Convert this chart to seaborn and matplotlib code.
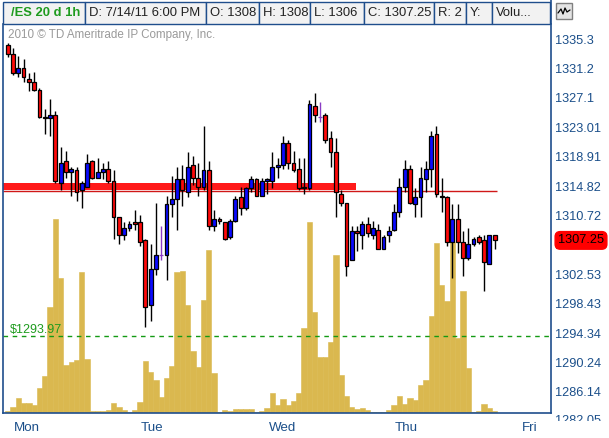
import numpy as np
import pandas as pd
import seaborn as sns
import matplotlib
matplotlib.use("Agg")
import matplotlib.pyplot as plt
from matplotlib.patches import Rectangle
from matplotlib.lines import Line2D
from matplotlib.transforms import Bbox, blended_transform_factory, offset_copy
from matplotlib import font_manager as fm

# ---------------- data ----------------
opens = [1334.5, 1333.25, 1330.5, 1331.25, 1329.75, 1329.25, 1328.25, 1324.5, 1324.25, 1324.75,
         1315.25, 1318.25, 1316.75, 1317.0, 1314.25, 1314.75, 1318.25, 1316.0, 1316.75, 1317.25,
         1315.5, 1310.5, 1308.0, 1309.0, 1309.75, 1309.75, 1307.25, 1298.25, 1303.25, 1305.25,
         1305.25, 1312.25, 1313.0, 1315.75, 1314.0, 1317.75, 1316.0, 1314.75, 1317.0, 1309.25,
         1310.25, 1309.75, 1307.75, 1310.0, 1313.25, 1311.75, 1314.5, 1315.75, 1313.5, 1315.5,
         1315.5, 1317.5, 1317.75, 1320.75, 1318.0, 1317.25, 1314.5, 1314.5, 1326.0, 1324.5,
         1324.75, 1321.5, 1319.5, 1313.75, 1312.5, 1304.5, 1308.5, 1308.0, 1309.5, 1308.0,
         1308.75, 1306.0, 1308.0, 1308.75, 1311.25, 1314.75, 1317.25, 1312.25, 1313.25, 1315.75,
         1317.25, 1322.0, 1313.5, 1313.25, 1307.0, 1310.25, 1307.0, 1304.75, 1306.75, 1307.75,
         1307.25, 1304.0, 1308.0]
highs = [1334.75, 1334.0, 1333.0, 1332.5, 1330.5, 1330.75, 1328.5, 1325.5, 1327.0, 1325.25,
         1320.25, 1319.75, 1317.5, 1317.5, 1315.5, 1319.25, 1318.5, 1318.75, 1318.0, 1318.25,
         1317.0, 1310.5, 1309.75, 1310.0, 1311.5, 1310.75, 1307.5, 1306.75, 1312.5, 1309.25,
         1313.5, 1316.25, 1317.5, 1317.75, 1319.5, 1319.0, 1318.0, 1323.25, 1318.25, 1311.5,
         1310.5, 1309.75, 1310.25, 1313.5, 1314.75, 1314.75, 1316.25, 1316.0, 1316.0, 1316.0,
         1319.5, 1318.75, 1321.75, 1321.25, 1319.75, 1318.75, 1318.75, 1326.75, 1327.75, 1326.5,
         1325.0, 1322.5, 1321.5, 1314.25, 1312.5, 1309.25, 1309.25, 1310.0, 1310.5, 1310.0,
         1309.5, 1308.0, 1309.25, 1312.25, 1316.0, 1318.5, 1317.75, 1314.5, 1317.5, 1318.25,
         1322.5, 1323.25, 1316.0, 1313.5, 1312.25, 1312.25, 1308.5, 1309.0, 1307.75, 1308.0,
         1308.0, 1308.0, 1308.0]
lows = [1332.75, 1330.25, 1330.0, 1329.25, 1328.0, 1328.0, 1324.25, 1322.0, 1321.75, 1315.25,
        1314.25, 1316.0, 1313.5, 1312.75, 1311.75, 1314.75, 1315.75, 1316.0, 1315.75, 1315.25,
        1307.5, 1306.75, 1307.25, 1308.5, 1308.75, 1306.5, 1295.25, 1296.0, 1302.5, 1304.5,
        1301.75, 1310.5, 1308.75, 1312.0, 1313.25, 1315.0, 1313.5, 1314.25, 1308.75, 1308.5,
        1309.5, 1307.25, 1307.5, 1309.75, 1310.75, 1311.5, 1314.0, 1313.5, 1313.5, 1313.75,
        1314.5, 1316.0, 1317.25, 1317.25, 1316.75, 1314.25, 1313.75, 1314.25, 1323.75, 1323.75,
        1320.75, 1317.5, 1310.5, 1312.0, 1302.25, 1304.5, 1305.75, 1306.0, 1307.75, 1307.5,
        1306.0, 1306.0, 1307.0, 1308.5, 1310.5, 1314.0, 1312.25, 1310.5, 1310.5, 1314.0,
        1314.75, 1313.25, 1311.25, 1306.5, 1302.0, 1305.5, 1302.25, 1304.5, 1306.5, 1306.75,
        1300.25, 1304.0, 1306.0]
closes = [1333.25, 1330.5, 1331.25, 1330.0, 1329.25, 1328.25, 1324.5, 1324.25, 1324.75, 1315.5,
          1318.0, 1316.75, 1317.25, 1314.0, 1315.25, 1318.0, 1316.0, 1316.75, 1317.25, 1315.5,
          1310.5, 1308.0, 1309.0, 1309.5, 1309.5, 1307.0, 1298.0, 1303.25, 1305.25, 1305.25,
          1312.25, 1313.0, 1315.75, 1314.25, 1317.5, 1316.0, 1314.75, 1317.0, 1309.25, 1310.25,
          1310.0, 1307.5, 1310.0, 1313.0, 1311.75, 1314.5, 1315.75, 1313.5, 1315.5, 1315.75,
          1317.5, 1317.75, 1320.75, 1318.0, 1317.0, 1314.5, 1314.75, 1326.25, 1324.75, 1324.5,
          1321.25, 1319.5, 1314.0, 1312.5, 1303.75, 1308.5, 1308.25, 1309.5, 1308.25, 1309.0,
          1306.0, 1307.75, 1308.5, 1311.25, 1314.75, 1317.25, 1312.5, 1313.25, 1316.0, 1317.25,
          1321.75, 1313.75, 1313.25, 1307.0, 1310.25, 1307.0, 1304.75, 1306.75, 1307.5, 1307.0,
          1304.25, 1308.0, 1307.25]
volume = [2, 6, 15, 10, 10, 8, 25, 37, 106, 194,
          135, 48, 51, 53, 141, 54, 2, 2, 2, 3,
          10, 6, 3, 1, 3, 11, 52, 41, 33, 16,
          35, 47, 141, 142, 108, 62, 46, 113, 163, 40,
          1, 3, 2, 4, 4, 4, 4, 1, 2, 5,
          20, 8, 14, 8, 12, 20, 85, 191, 101, 56,
          56, 71, 158, 38, 17, 6, 4, 5, 3, 1,
          1, 1, 3, 8, 17, 9, 15, 13, 28, 33,
          97, 170, 128, 112, 171, 75, 122, 45, 1, 2,
          9, 5, 2]

price_ticks = [1335.3, 1331.2, 1327.1, 1323.01, 1318.91, 1314.82, 1310.72, 1306.62,
               1302.53, 1298.43, 1294.34, 1290.24, 1286.14]
price_tick_labels = ["1335.3", "1331.2", "1327.1", "1323.01", "1318.91", "1314.82", "1310.72",
                     "1306.62", "1302.53", "1298.43", "1294.34", "1290.24", "1286.14"]
cut_tick_value = 1282.05
cut_tick_label = "1282.05"
day_labels = ["Mon", "Tue", "Wed", "Thu", "Fri"]
day_positions = [3.6, 27.2, 51.9, 75.2, 98.7]

resist_lo, resist_hi = 1314.2, 1315.2
resist_line = 1314.1
resist_band_end = 65.8
resist_line_end = 92.4
support_level = 1293.97
support_label = "$1293.97"

header_items = ["/ES 20 d 1h", "D: 7/14/11 6:00 PM", "O: 1308", "H: 1308", "L: 1306",
                "C: 1307.25", "R: 2", "Y:", "Volu..."]
copyright_text = "2010 \u00a9 TD Ameritrade IP Company, Inc."

# ---------------- style ----------------
sns.set_theme(style="white")


def pick(*names):
    for n in names:
        try:
            fm.findfont(fm.FontProperties(family=n), fallback_to_default=False)
            return n
        except Exception:
            pass
    return "DejaVu Sans"


MAIN_FONT = pick("Liberation Sans", "DejaVu Sans")
plt.rcParams["font.family"] = [MAIN_FONT, "DejaVu Sans"]

AX_BLUE = "#1B4F8A"
LINE_BLUE = "#1F4E8C"
VOL_COLOR = "#DAB84F"
UP = "#0A0AFF"
DOWN = "#FF0A0A"
FLAT = "#8A3CC4"
FS = 9.2

W_PX, H_PX = 609, 438
fig = plt.figure(figsize=(W_PX / 100, H_PX / 100), dpi=100)
fig.patch.set_facecolor("white")


def fx(px):
    return px / W_PX


def fy(py):
    return 1 - py / H_PX


L, R, T, B = 3, 551, 24, 413
rect = [fx(L), fy(B), (R - L) / W_PX, (B - T) / H_PX]

n = len(closes)
idx = np.arange(n)
xlim = (-0.89, 102.64)
ylim = (1283.21, 1337.39)

# volume axes (behind)
ax_vol = fig.add_axes(rect)
vol_df = pd.DataFrame({"bar": idx, "volume": volume})
sns.barplot(data=vol_df, x="bar", y="volume", native_scale=True, orient="x",
            width=1.0, color=VOL_COLOR, saturation=1, edgecolor=VOL_COLOR,
            linewidth=0.4, ax=ax_vol)
ax_vol.set_xlim(*xlim)
ax_vol.set_ylim(0, B - T)
ax_vol.axis("off")

# price axes (front)
ax = fig.add_axes(rect)
ax.patch.set_visible(False)
ax.set_xlim(*xlim)
ax.set_ylim(*ylim)
ax.grid(False)

o = np.array(opens)
c = np.array(closes)
h = np.array(highs)
lo = np.array(lows)
body_col = np.where(c > o, UP, np.where(c < o, DOWN, FLAT))
edge_col = np.where(c == o, FLAT, "black")
wick_col = np.where(c == o, FLAT, "black")

# resistance band and support line
ax.fill_between([xlim[0], resist_band_end], resist_lo, resist_hi, color="#FF1A1A", lw=0, zorder=2)
ax.hlines(resist_line, xlim[0], resist_line_end, color="#D01818", lw=1.0, zorder=2)
ax.axhline(support_level, color="#149A14", lw=1.0, dashes=(3.3, 3.3), zorder=2)
ax.annotate(support_label, xy=(0.0128, support_level), xycoords=("axes fraction", "data"),
            xytext=(0, 2.2), textcoords="offset points", va="baseline", ha="left",
            fontsize=9.0, color="#1E9B1E", zorder=5)

ax.vlines(idx, lo, h, colors=wick_col, lw=1.0, zorder=3)
ax.bar(idx, np.abs(c - o), bottom=np.minimum(o, c), width=0.72, color=body_col,
       edgecolor=edge_col, linewidth=0.9, zorder=4)

# axes styling
for s in ["left", "bottom", "right"]:
    ax.spines[s].set_color(LINE_BLUE)
    ax.spines[s].set_linewidth(1.2)
ax.spines["top"].set_visible(False)
ax.yaxis.tick_right()
ax.set_yticks(price_ticks)
ax.set_yticklabels(price_tick_labels)
ax.set_xticks(day_positions)
ax.set_xticklabels(day_labels)
ax.tick_params(axis="y", length=0, pad=2.9, labelsize=FS, labelcolor=AX_BLUE)
ax.tick_params(axis="x", length=0, pad=6.5, labelsize=9.6, labelcolor=AX_BLUE)

# partially clipped bottom tick label
tr = offset_copy(blended_transform_factory(ax.transAxes, ax.transData), fig=fig, x=4, y=0, units="dots")
t = ax.text(1, cut_tick_value, cut_tick_label, transform=tr, ha="left", va="center",
            fontsize=FS, color=AX_BLUE)
t.set_clip_on(True)
t.set_clip_box(Bbox([[R + 1, H_PX - 421], [W_PX, H_PX]]))

# current price label
ax.annotate(f"{closes[-1]:.2f}", xy=(1, closes[-1]), xycoords=("axes fraction", "data"),
            xytext=(5.0, 0), textcoords="offset points", ha="left", va="center",
            fontsize=FS, color="black", annotation_clip=False, zorder=10,
            bbox=dict(boxstyle="round,pad=0.22,rounding_size=0.4", fc="#FF0000", ec="#FF0000"))

# header boxes
edges = [3, 85, 206, 259, 310, 364, 434, 466, 492, 550]
for i, txt in enumerate(header_items):
    x0, x1 = edges[i], edges[i + 1]
    fig.add_artist(Rectangle((fx(x0), fy(24)), (x1 - x0) / W_PX, 22 / H_PX,
                             transform=fig.transFigure, fc="#F2F2F2", ec=LINE_BLUE, lw=1.0))
    if i == 0:
        fig.text(fx(x0 + 8), fy(13), txt, ha="left", va="center", fontsize=9.4,
                 fontweight="bold", color="#1E9B1E")
    else:
        fig.text(fx(x0 + 4), fy(13), txt, ha="left", va="center", fontsize=9.4, color="#222222")
fig.add_artist(Line2D([fx(R), fx(R)], [fy(0), fy(24)], transform=fig.transFigure,
                      color=LINE_BLUE, lw=1.2))

# chart-style icon button
fig.add_artist(Rectangle((fx(556), fy(19)), 16 / W_PX, 16 / H_PX, transform=fig.transFigure,
                         fc="#E4E4E4", ec="#808080", lw=1.0))
fig.add_artist(Line2D([fx(558), fx(561), fx(563), fx(565), fx(567), fx(570)],
                      [fy(13), fy(9), fy(14), fy(8), fy(12), fy(10)],
                      transform=fig.transFigure, color="black", lw=0.9))

fig.text(fx(8), fy(35), copyright_text, ha="left", va="center", fontsize=8.4, color="#9A9A9A")

fig.savefig("out.png", dpi=100)
